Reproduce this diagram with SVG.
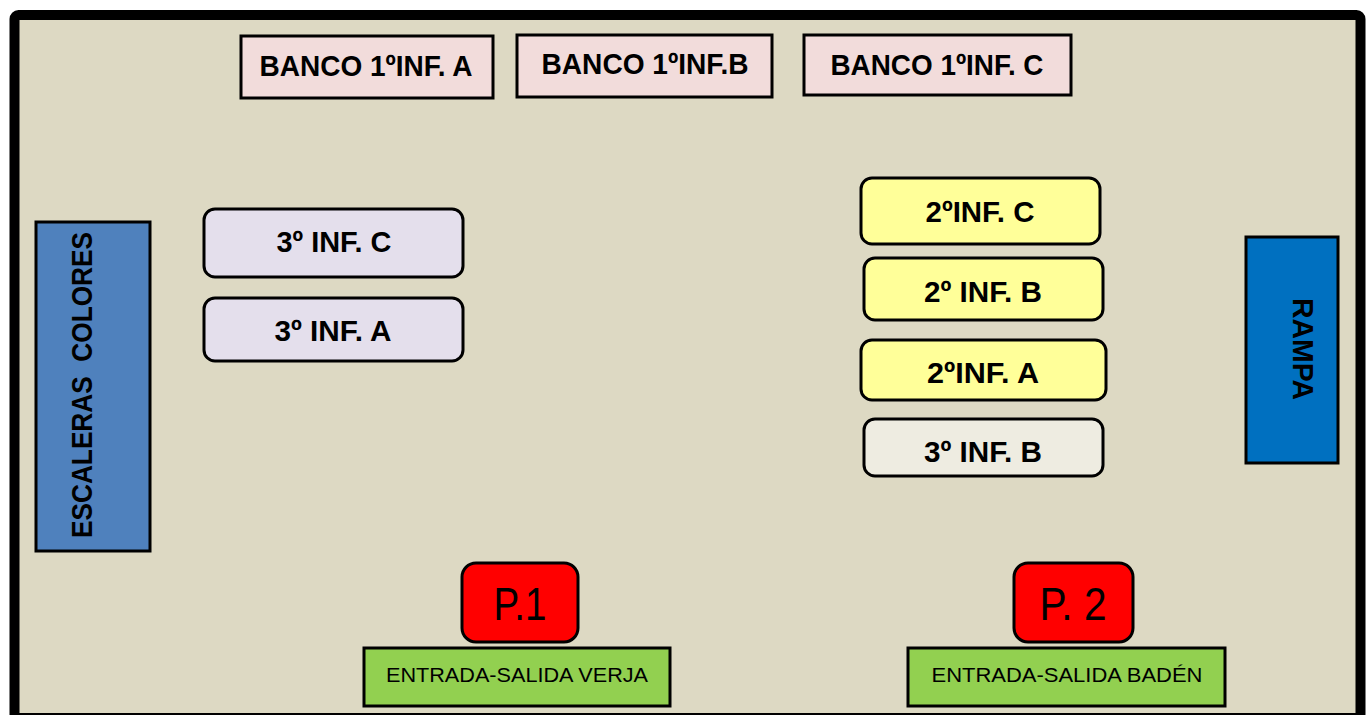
<svg xmlns="http://www.w3.org/2000/svg" width="1370" height="715" viewBox="0 0 1370 715">
<style>
.frame{fill:#DDD9C3;stroke:#000;stroke-width:10}
.box{stroke:#000;stroke-width:3}
.banco{fill:#F2DCDB}
.lav{fill:#E4DFEC}
.yel{fill:#FFFF99}
.pale{fill:#EEECE1}
.esc{fill:#4F81BD}
.ramp{fill:#0070C0}
.red{fill:#FF0000}
.grn{fill:#92D050}
.b{font-family:"Liberation Sans",Arial,sans-serif;font-weight:bold;font-size:30px;fill:#000;text-anchor:middle}
.r{font-family:"Liberation Sans",Arial,sans-serif;font-size:21px;fill:#000;text-anchor:middle}
.p{font-family:"Liberation Sans",Arial,sans-serif;font-size:47px;fill:#000;text-anchor:middle}
</style>
<rect class="frame" x="14.5" y="15" width="1346" height="703" rx="4"/>
<g id="banco-a"><rect class="box banco" x="241" y="36" width="252" height="62"/><text class="b" x="366" y="76" textLength="213" lengthAdjust="spacingAndGlyphs">BANCO 1ºINF. A</text></g>
<g id="banco-b"><rect class="box banco" x="517" y="35" width="255" height="62"/><text class="b" x="645" y="74" textLength="207" lengthAdjust="spacingAndGlyphs">BANCO 1ºINF.B</text></g>
<g id="banco-c"><rect class="box banco" x="804" y="35" width="267" height="60"/><text class="b" x="937" y="75" textLength="213" lengthAdjust="spacingAndGlyphs">BANCO 1ºINF. C</text></g>
<g id="escaleras"><rect class="box esc" x="36" y="222" width="114" height="329"/><text class="b" style="white-space:pre" xml:space="preserve" transform="translate(92,385) rotate(-90)" x="0" y="0" textLength="306" lengthAdjust="spacingAndGlyphs">ESCALERAS  COLORES</text></g>
<g id="inf3c"><rect class="box lav" x="204" y="209" width="259" height="68" rx="11"/><text class="b" x="334" y="252" textLength="115" lengthAdjust="spacingAndGlyphs">3º INF. C</text></g>
<g id="inf3a"><rect class="box lav" x="204" y="298" width="259" height="63" rx="11"/><text class="b" x="333" y="341" textLength="117" lengthAdjust="spacingAndGlyphs">3º INF. A</text></g>
<g id="inf2c"><rect class="box yel" x="861" y="178" width="239" height="66" rx="11"/><text class="b" x="980" y="222" textLength="109" lengthAdjust="spacingAndGlyphs">2ºINF. C</text></g>
<g id="inf2b"><rect class="box yel" x="864" y="258" width="239" height="62" rx="11"/><text class="b" x="983" y="302" textLength="118" lengthAdjust="spacingAndGlyphs">2º INF. B</text></g>
<g id="inf2a"><rect class="box yel" x="861" y="340" width="245" height="60" rx="11"/><text class="b" x="983" y="383" textLength="112" lengthAdjust="spacingAndGlyphs">2ºINF. A</text></g>
<g id="inf3b"><rect class="box pale" x="864" y="419" width="239" height="57" rx="11"/><text class="b" x="983" y="462" textLength="118" lengthAdjust="spacingAndGlyphs">3º INF. B</text></g>
<g id="rampa"><rect class="box ramp" x="1246" y="237" width="92" height="226"/><text class="b" transform="translate(1293,349) rotate(90)" x="0" y="0" textLength="102" lengthAdjust="spacingAndGlyphs">RAMPA</text></g>
<g id="p1"><rect class="box red" x="462" y="563" width="116" height="79" rx="14"/><text class="p" x="520" y="620" textLength="53" lengthAdjust="spacingAndGlyphs">P.1</text></g>
<g id="p2"><rect class="box red" x="1014" y="563" width="119" height="79" rx="14"/><text class="p" x="1073" y="620" textLength="67" lengthAdjust="spacingAndGlyphs">P. 2</text></g>
<g id="verja"><rect class="box grn" x="364" y="648" width="306" height="58"/><text class="r" x="517" y="682" textLength="262" lengthAdjust="spacingAndGlyphs">ENTRADA-SALIDA VERJA</text></g>
<g id="baden"><rect class="box grn" x="908" y="648" width="317" height="58"/><text class="r" x="1067" y="682" textLength="271" lengthAdjust="spacingAndGlyphs">ENTRADA-SALIDA BADÉN</text></g>
<g id="connectors"></g>
</svg>
